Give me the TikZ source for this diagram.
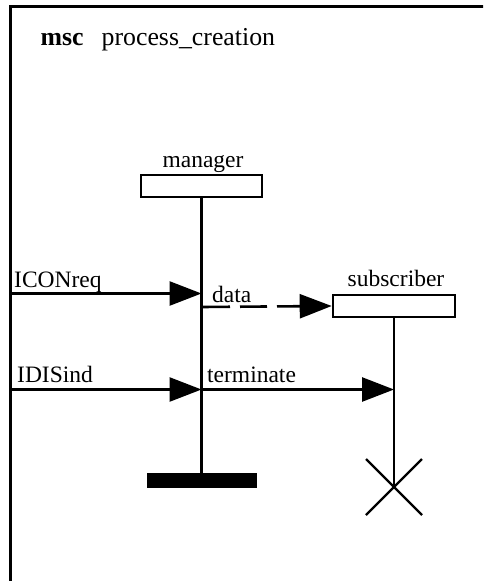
\documentclass[tikz,border=0pt]{standalone}
\usepackage{fontspec}
\setmainfont{Liberation Serif}
\usetikzlibrary{arrows.meta,calc}
\tikzset{
  lw/.style={line width=2.6pt},
  txt/.style={inner sep=0pt, anchor=base west, font=\fontsize{23.5}{28}\selectfont},
  titletxt/.style={txt, font=\fontsize{25.8}{30}\selectfont},
  instbox/.style={draw, lw, minimum height=22pt, inner sep=0pt},
  msgarrow/.style={lw, -{Triangle[length=32pt,width=24pt]}},
  lifeline/.style={lw},
}
\begin{document}
\begin{tikzpicture}[x=1pt,y=-1pt]
\clip (0,0) rectangle (483,581);
\useasboundingbox (0,0) rectangle (483,581);
% frame (only top and left edges visible)
\draw[line width=3pt] (10,600) -- (10,6) -- (500,6);
% title
\node[titletxt] (title) at (40.5,45.5) {\textbf{msc}\hspace{18pt}process\_creation};
% instances
\node[instbox, minimum width=121pt] (mgr) at (201.5,186) {};
\node[txt, anchor=base] (mgrlbl) at (203,167) {manager};
\node[instbox, minimum width=122pt] (sub) at (394,306) {};
\node[txt, anchor=base] (sublbl) at (396,286) {subscriber};
% stop bar
\node[fill=black, draw=none, minimum width=110pt, minimum height=15pt, inner sep=0pt] (bar) at (201.5,480.5) {};
% coordinates
\coordinate (e1) at (10,293.5);
\coordinate (e2) at (10,389.5);
\coordinate (m1) at (201.5,293.5);
\coordinate (m2) at (201.5,307);
\coordinate (m3) at (201.5,389.5);
\coordinate (s1) at (394,389.5);
\coordinate (sx) at (394,487);
% lifelines
\draw[lifeline] (mgr.south) -- (bar.north);
\draw[lifeline] (sub.south) -- (sx);
% stop cross
\draw[line width=2.4pt] ($(sx)+(-28,-28)$) -- ($(sx)+(28,28)$);
\draw[line width=2.4pt] ($(sx)+(-28,28)$) -- ($(sx)+(28,-28)$);
% messages
\draw[msgarrow] (e1) -- (m1);
\node[txt] (l1) at (14,287) {ICONreq};
\draw[msgarrow, dash pattern=on 27pt off 10pt, dash phase=35.5pt] (m2) -- (sub.west);
\node[txt] (l2) at (212,302) {data};
\draw[msgarrow] (e2) -- (m3);
\node[txt] (l3) at (17,382) {IDISind};
\draw[msgarrow] (m3) -- (s1);
\node[txt] (l4) at (207,382) {terminate};
\end{tikzpicture}
\end{document}
